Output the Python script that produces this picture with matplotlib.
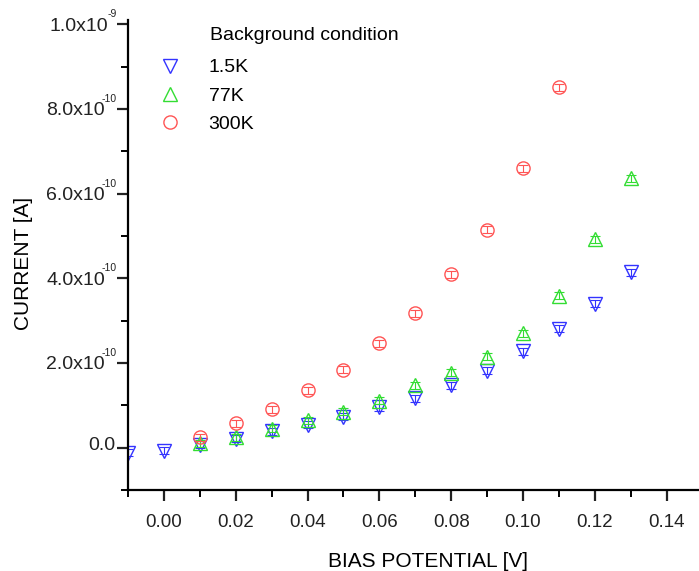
import matplotlib
matplotlib.use("Agg")
import matplotlib.pyplot as plt
import matplotlib.transforms as mtransforms
import numpy as np
from matplotlib.ticker import MultipleLocator, FixedLocator

plt.rcParams['font.family'] = ['Liberation Sans', 'DejaVu Sans']

# bias potential [V] and current [A]
x_15k = [-0.01, 0.00, 0.01, 0.02, 0.03, 0.04, 0.05, 0.06, 0.07, 0.08, 0.09, 0.10, 0.11, 0.12, 0.13]
i_15k = [-0.012, -0.007, 0.007, 0.021, 0.038, 0.054, 0.073, 0.095, 0.116, 0.147, 0.182, 0.227, 0.281, 0.340, 0.414]

x_77k = [0.01, 0.02, 0.03, 0.04, 0.05, 0.06, 0.07, 0.08, 0.09, 0.10, 0.11, 0.12, 0.13]
i_77k = [0.010, 0.024, 0.045, 0.064, 0.085, 0.111, 0.147, 0.177, 0.215, 0.270, 0.359, 0.492, 0.636]

x_300k = [0.01, 0.02, 0.03, 0.04, 0.05, 0.06, 0.07, 0.08, 0.09, 0.10, 0.11]
i_300k = [0.024, 0.057, 0.090, 0.135, 0.184, 0.246, 0.317, 0.409, 0.515, 0.660, 0.851]

yticks = [0.0, 2e-10, 4e-10, 6e-10, 8e-10, 1e-9]
ytick_main = ['0.0', '2.0x10', '4.0x10', '6.0x10', '8.0x10', '1.0x10']
ytick_exp = ['', '-10', '-10', '-10', '-10', '-9']

fig = plt.figure(figsize=(6.99, 5.71), dpi=100)
ax = fig.add_axes([0.183, 0.142, 0.817, 0.823])

series = [
    (x_15k, i_15k, 'v', '#3333ff', '1.5K'),
    (x_77k, i_77k, '^', '#33dd33', '77K'),
    (x_300k, i_300k, 'o', '#ff5555', '300K'),
]
for xs, ys, m, c, lab in series:
    ys = np.array(ys) * 1e-9
    ax.errorbar(xs, ys, yerr=0.008e-9, fmt='none', ecolor=c, elinewidth=0.8,
                capsize=3.5, capthick=0.8)
    ax.plot(xs, ys, linestyle='none', marker=m, markersize=9.5, markerfacecolor='none',
            markeredgecolor=c, markeredgewidth=1.0, label=lab)

ax.set_xlim(-0.01, 0.149)
ax.set_ylim(-1e-10, 1.01e-9)
ax.xaxis.set_major_locator(FixedLocator([0.0, 0.02, 0.04, 0.06, 0.08, 0.10, 0.12, 0.14]))
ax.xaxis.set_minor_locator(MultipleLocator(0.01))
ax.set_xticklabels(['0.00', '0.02', '0.04', '0.06', '0.08', '0.10', '0.12', '0.14'])
ax.set_yticks(yticks)
ax.set_yticklabels([''] * len(yticks))
ax.yaxis.set_minor_locator(MultipleLocator(1e-10))

for s in ['top', 'right']:
    ax.spines[s].set_visible(False)
for s in ['left', 'bottom']:
    ax.spines[s].set_linewidth(1.6)
ax.tick_params(which='major', direction='out', length=8, width=1.6, labelsize=13.5, colors='#222222')
ax.tick_params(which='minor', direction='out', length=5, width=1.4)
ax.tick_params(axis='x', pad=9)

# y tick labels with small exponent, as in the original
ytr = ax.get_yaxis_transform()
for v, main, ex in zip(yticks, ytick_main, ytick_exp):
    if ex:
        off_main = -23 if len(ex) == 3 else -20
        ax.text(0, v, main, fontsize=14, color='#222222', ha='right', va='center',
                transform=mtransforms.offset_copy(ytr, fig, x=off_main, y=-2, units='dots'))
        ax.text(0, v, ex, fontsize=7.5, color='#222222', ha='right', va='center',
                transform=mtransforms.offset_copy(ytr, fig, x=-11, y=10, units='dots'))
    else:
        ax.text(0, v, main, fontsize=14, color='#222222', ha='right', va='center',
                transform=mtransforms.offset_copy(ytr, fig, x=-13, y=2, units='dots'))

ax.set_xlabel('BIAS POTENTIAL [V]', fontsize=15)
ax.set_ylabel('CURRENT [A]', fontsize=15)
ax.xaxis.set_label_coords(0.525, -0.132, transform=ax.transAxes)
ax.yaxis.set_label_coords(-0.166, 0.483, transform=ax.transAxes)

leg = ax.legend(loc='upper left', bbox_to_anchor=(0.215, 0.897), bbox_transform=fig.transFigure,
                frameon=False, fontsize=14, handletextpad=1.0, labelspacing=0.55,
                borderaxespad=0, borderpad=0)
fig.text(0.30, 0.938, 'Background condition', fontsize=14, ha='left', va='center')

fig.savefig('out.png', dpi=100)
